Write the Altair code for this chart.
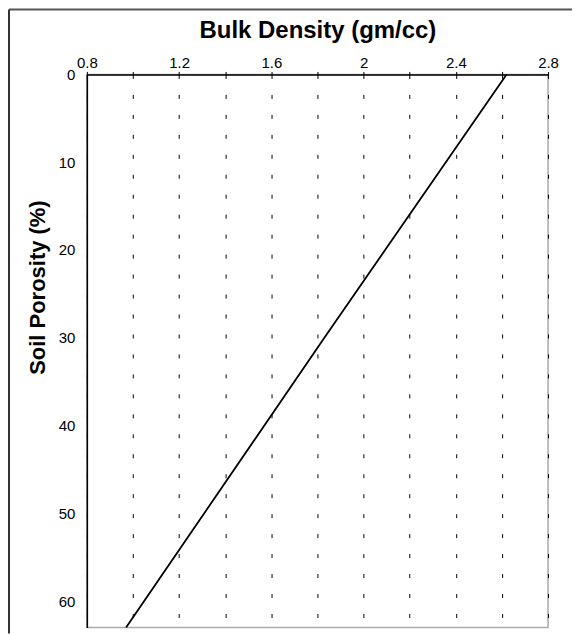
import altair as alt
import pandas as pd

# Data
porosity = [0, 30, 63]            # Soil Porosity (%)
bulk_density = [2.62, 1.83, 0.97]  # Bulk Density (gm/cc)
x_grid_values = [0.8, 1.0, 1.2, 1.4, 1.6, 1.8, 2.0, 2.2, 2.4, 2.6, 2.8]
y_tick_values = [0, 10, 20, 30, 40, 50, 60]

W, H = 462, 554
FONT = "Liberation Sans"

df = pd.DataFrame({"bd": bulk_density, "porosity": porosity})

x_scale = alt.Scale(domain=[0.8, 2.8], nice=False, zero=False)
y_scale = alt.Scale(domain=[0, 63], nice=False, zero=False, reverse=True)

line = alt.Chart(df).mark_line(color="black", strokeWidth=1.8).encode(
    x=alt.X(
        "bd:Q",
        scale=x_scale,
        axis=alt.Axis(
            orient="top",
            values=x_grid_values,
            labelExpr="round(datum.value*10) % 4 == 0 ? format(datum.value, '~g') : ''",
            labelFontSize=15,
            labelFontWeight="normal",
            labelPadding=1,
            labelFlush=False,
            labelOverlap=False,
            labelColor="black",
            tickSize=3,
            tickColor="black",
            domainColor="black",
            domainWidth=1.5,
            grid=True,
            gridColor="black",
            gridDash=[4, 16],
            gridWidth=1,
            title="Bulk Density (gm/cc)",
            titleFontSize=24,
            titleFontWeight="bold",
            titleColor="black",
            titleBaseline="alphabetic",
            titleY=-37,
        ),
    ),
    y=alt.Y(
        "porosity:Q",
        scale=y_scale,
        axis=alt.Axis(
            orient="left",
            values=y_tick_values,
            grid=False,
            ticks=False,
            labelFontSize=15,
            labelFontWeight="normal",
            labelPadding=12,
            labelFlush=False,
            labelColor="black",
            domainColor="black",
            domainWidth=1.5,
            title="Soil Porosity (%)",
            titleFontSize=22,
            titleFontWeight="bold",
            titleColor="black",
            titleBaseline="alphabetic",
            titleAngle=270,
            titleAlign="center",
            titleX=-42,
            titleY=213,
        ),
    ),
)

frame_src = pd.DataFrame({"k": [0]})
frame_top = alt.Chart(frame_src).mark_rule(color="#555555", strokeWidth=2).encode(
    x=alt.value(-78), x2=alt.value(486), y=alt.value(-65)
)
frame_left = alt.Chart(frame_src).mark_rule(color="#333333", strokeWidth=2).encode(
    x=alt.value(-78), y=alt.value(-65), y2=alt.value(H + 6)
)

chart = (
    alt.layer(frame_top, frame_left, line)
    .properties(width=W, height=H, padding=0, background="white")
    .configure_view(stroke="#aaaaaa", strokeWidth=1.5)
    .configure_axis(labelFont=FONT, titleFont=FONT)
)

chart.save("out.html", embed_options={"renderer": "svg", "actions": False})
